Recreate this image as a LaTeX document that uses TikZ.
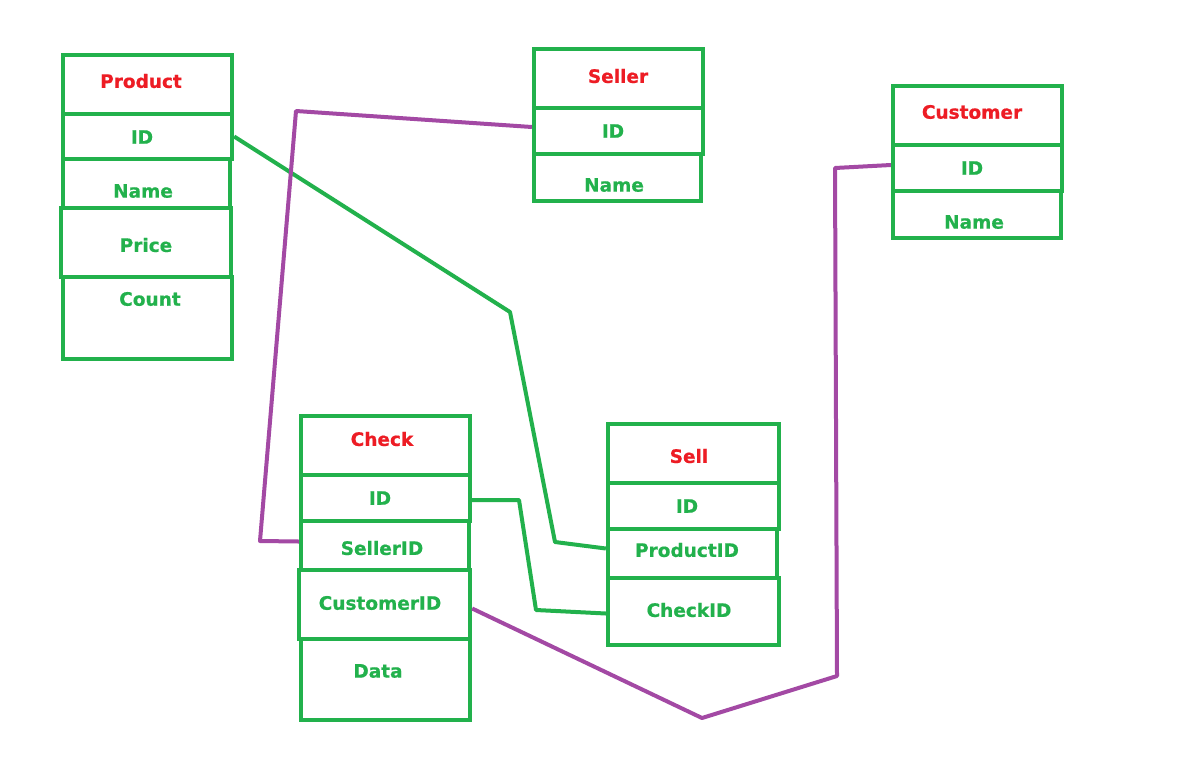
\documentclass[tikz,border=0pt]{standalone}
\usepackage{fontspec}
\setmainfont{DejaVu Sans}
\newfontfamily\heavyfont{DejaVu Sans Bold}[FakeBold=0.6]
\definecolor{pgreen}{RGB}{34,177,76}
\definecolor{pred}{RGB}{237,28,36}
\definecolor{ppurple}{RGB}{163,73,164}
\tikzset{
  cell/.style={draw=pgreen, line width=4.3pt, rectangle, inner sep=0pt},
  title/.style={text=pred, font=\fontsize{18.5}{20}\heavyfont, inner sep=0pt},
  field/.style={text=pgreen, font=\fontsize{18.5}{20}\heavyfont, inner sep=0pt},
  glink/.style={draw=pgreen, line width=4pt, line join=round},
  plink/.style={draw=ppurple, line width=4pt, line join=round},
}
% \cellbox{name}{x1}{y1}{x2}{y2}
\newcommand{\cellbox}[5]{%
  \node[cell, minimum width={(#4-#2)*1pt}, minimum height={(#5-#3)*1pt}] (#1) at ({(#2+#4)/2},{(#3+#5)/2}) {};}
\begin{document}
\begin{tikzpicture}[x=1pt,y=-1pt]
\fill[white] (0,0) rectangle (1190,774);
\useasboundingbox (0,0) rectangle (1190,774);

% Product
\cellbox{prodT}{63}{55}{232}{114}
\cellbox{prodID}{63}{114}{232}{159}
\cellbox{prodName}{63}{159}{230}{208}
\cellbox{prodPrice}{61}{208}{231}{277}
\cellbox{prodCount}{63}{277}{232}{359}
\node[title] (tProd) at (141,81) {Product};
\node[field] (tProdID) at (142,137) {ID};
\node[field] (tProdName) at (143,191) {Name};
\node[field] (tProdPrice) at (146,245) {Price};
\node[field] (tProdCount) at (150,299) {Count};

% Seller
\cellbox{selT}{534}{49}{703}{108}
\cellbox{selID}{534}{108}{703}{154}
\cellbox{selName}{534}{154}{701}{201}
\node[title] (tSel) at (618,76) {Seller};
\node[field] (tSelID) at (613,131) {ID};
\node[field] (tSelName) at (614,185) {Name};

% Customer
\cellbox{cusT}{893}{86}{1062}{145}
\cellbox{cusID}{893}{145}{1062}{191}
\cellbox{cusName}{893}{191}{1061}{238}
\node[title] (tCus) at (972,112) {Customer};
\node[field] (tCusID) at (972,168) {ID};
\node[field] (tCusName) at (974,222) {Name};

% Check
\cellbox{chkT}{301}{416}{470}{475}
\cellbox{chkID}{301}{475}{470}{521}
\cellbox{chkSel}{301}{521}{469}{570}
\cellbox{chkCus}{299}{570}{470}{639}
\cellbox{chkData}{301}{639}{470}{720}
\node[title] (tChk) at (382,439) {Check};
\node[field] (tChkID) at (380,498) {ID};
\node[field] (tChkSel) at (382,548) {SellerID};
\node[field] (tChkCus) at (380,603) {CustomerID};
\node[field] (tChkData) at (378,671) {Data};

% Sell
\cellbox{sellT}{608}{424}{779}{483}
\cellbox{sellID}{608}{483}{779}{529}
\cellbox{sellProd}{608}{529}{777}{578}
\cellbox{sellChk}{608}{578}{779}{645}
\node[title] (tSell) at (689,456) {Sell};
\node[field] (tSellID) at (687,506) {ID};
\node[field] (tSellProd) at (687,550) {ProductID};
\node[field] (tSellChk) at (689,610) {CheckID};

% connectors
\coordinate (g1a) at (510,312);
\coordinate (g1b) at (555,542);
\draw[glink] (prodID.east) -- (g1a) -- (g1b) -- ([yshift=5pt]sellProd.west);

\coordinate (g2a) at (519,500);
\coordinate (g2b) at (536,610);
\draw[glink] ([yshift=-2pt]chkID.east) -- (g2a) -- (g2b) -- ([yshift=-2pt]sellChk.west);

\coordinate (p1a) at (296,111);
\coordinate (p1b) at (260,541);
\draw[plink] ([yshift=4pt]selID.west) -- (p1a) -- (p1b) -- ([yshift=4pt]chkSel.west);

\coordinate (p2a) at (835,168);
\coordinate (p2b) at (837,676);
\coordinate (p2c) at (702,718);
\draw[plink] ([yshift=3pt]cusID.west) -- (p2a) -- (p2b) -- (p2c) -- ([yshift=-4pt]chkCus.east);
\end{tikzpicture}
\end{document}
